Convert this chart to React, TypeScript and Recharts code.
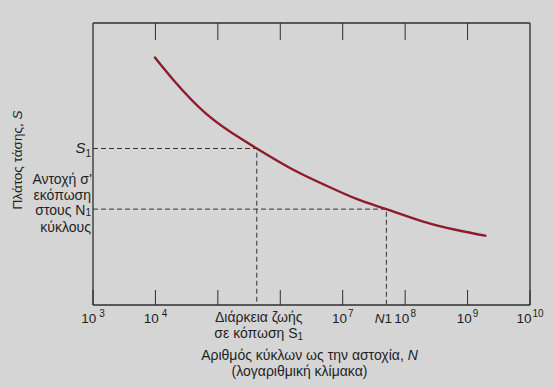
import React from 'react';
import { LineChart, Line, XAxis, YAxis, Label } from 'recharts';

// ---- data ----
const cycles = [9.6e3, 1.94e4, 6.6e4, 2.26e5, 4.2e5, 1.43e6, 4.9e6, 1.67e7, 5e7, 1.95e8, 6.7e8, 2.0e9];
const stressAmplitude = [88, 79.8, 67.7, 59.2, 55.5, 48.6, 42.8, 37.6, 34, 29.6, 26.6, 24.5];
const decadeExponents = [3, 4, 5, 6, 7, 8, 9, 10];
const labeledExponents = [3, 4, 7, 8, 9, 10];
const topTickExponents = [4, 5, 6, 7, 8, 9];
const fatigueLifeN = 4.2e5;
const S1 = 55.5;
const N1 = 5e7;
const enduranceAtN1 = 34;
const nDomain = [1e3, 1e10];
const sDomain = [0, 100];

const curveData = cycles.map((N, i) => ({ N, S: stressAmplitude[i] }));
const s1Guide = [
  { N: nDomain[0], S: S1 },
  { N: fatigueLifeN, S: S1 },
  { N: fatigueLifeN, S: sDomain[0] },
];
const n1Guide = [
  { N: nDomain[0], S: enduranceAtN1 },
  { N: N1, S: enduranceAtN1 },
  { N: N1, S: sDomain[0] },
];
const decadeTicks = decadeExponents.map((e) => Math.pow(10, e));
const topTicks = topTickExponents.map((e) => Math.pow(10, e));
const bottomTicks = [...decadeTicks, fatigueLifeN, N1];
const leftTicks = [S1, enduranceAtN1];

const FONT = '"Liberation Sans", Arial, Helvetica, sans-serif';
const TEXT = '#1f1f1f';
const AXIS = '#2e2e2e';

const isDecade = (v: number) => {
  const e = Math.round(Math.log10(v));
  return Math.abs(Math.pow(10, e) - v) < 1e-6 * v;
};

const BottomTick = (props: any) => {
  const { x, y, payload } = props;
  const v = payload.value;
  if (v === fatigueLifeN) {
    return (
      <g fontFamily={FONT} fill={TEXT} fontSize={14}>
        <text x={x + 2} y={y + 17} textAnchor="middle">Διάρκεια ζωής</text>
        <text x={x + 2} y={y + 33} textAnchor="middle">
          σε κόπωση S<tspan fontSize={10} dy={2}>1</tspan>
        </text>
      </g>
    );
  }
  if (v === N1) {
    return (
      <g fontFamily={FONT} fill={TEXT} fontSize={13.5}>
        <text x={x - 3} y={y + 18} textAnchor="middle">
          <tspan fontStyle="italic">N</tspan>1
        </text>
      </g>
    );
  }
  if (isDecade(v)) {
    const e = Math.round(Math.log10(v));
    return (
      <g>
        <line x1={x} y1={y} x2={x} y2={y - 15} stroke={AXIS} strokeWidth={1} />
        {labeledExponents.includes(e) ? (
          <text x={x} y={y + 18} textAnchor="middle" fontFamily={FONT} fill={TEXT} fontSize={13.5}>
            10<tspan fontSize={10} dx={e <= 4 ? 3 : 1} dy={-6}>{e}</tspan>
          </text>
        ) : null}
      </g>
    );
  }
  return null;
};

const TopTick = (props: any) => {
  const { x, y } = props;
  return <line x1={x} y1={y} x2={x} y2={y + 17} stroke={AXIS} strokeWidth={1} />;
};

const LeftTick = (props: any) => {
  const { x, y, payload } = props;
  const v = payload.value;
  if (v === S1) {
    return (
      <text x={x - 2} y={y + 5} textAnchor="end" fontFamily={FONT} fill={TEXT} fontSize={15}>
        <tspan fontStyle="italic">S</tspan>
        <tspan fontSize={10} dy={4}>1</tspan>
      </text>
    );
  }
  const lines = ['Αντοχή σ\u2019', 'εκόπωση', null, 'κύκλους'];
  return (
    <g fontFamily={FONT} fill={TEXT} fontSize={14} textAnchor="end">
      <text x={x - 1} y={y - 25}>{lines[0]}</text>
      <text x={x - 2} y={y - 9}>{lines[1]}</text>
      <text x={x - 2} y={y + 6}>
        στους N<tspan fontSize={10} dy={1}>1</tspan>
      </text>
      <text x={x - 2} y={y + 23}>{lines[3]}</text>
    </g>
  );
};

const XTitle = (props: any) => {
  const { viewBox } = props;
  const cx = viewBox.x + viewBox.width / 2;
  const y = viewBox.y;
  return (
    <g fontFamily={FONT} fill={TEXT} fontSize={14} textAnchor="middle">
      <text x={cx - 2} y={y + 55}>
        Αριθμός κύκλων ως την αστοχία, <tspan fontStyle="italic">N</tspan>
      </text>
      <text x={cx - 12} y={y + 71}>(λογαριθμική κλίμακα)</text>
    </g>
  );
};

const YTitle = (props: any) => {
  const { viewBox } = props;
  const x = viewBox.x + viewBox.width - 75;
  const y = viewBox.y + viewBox.height / 2 - 4;
  return (
    <text
      x={x}
      y={y}
      transform={`rotate(-90 ${x} ${y})`}
      textAnchor="middle"
      dominantBaseline="middle"
      fontFamily={FONT}
      fill={TEXT}
      fontSize={13.5}
    >
      Πλάτος τάσης, <tspan fontStyle="italic">S</tspan>
    </text>
  );
};

export default function App() {
  return (
    <div style={{ position: 'absolute', left: 0, top: 0, width: 553, height: 388, background: '#d5d5d5' }}>
      <LineChart width={553} height={388} margin={{ top: 13, right: 13, bottom: 53, left: 33 }}>
        <XAxis
          dataKey="N"
          type="number"
          scale="log"
          domain={nDomain}
          allowDataOverflow
          ticks={bottomTicks}
          interval={0}
          tick={<BottomTick />}
          tickSize={0}
          tickMargin={0}
          tickLine={false}
          height={30}
          axisLine={{ stroke: AXIS, strokeWidth: 1.3 }}
        >
          <Label content={<XTitle />} />
        </XAxis>
        <XAxis
          xAxisId="top"
          orientation="top"
          dataKey="N"
          type="number"
          scale="log"
          domain={nDomain}
          allowDataOverflow
          ticks={topTicks}
          interval={0}
          tick={<TopTick />}
          tickSize={0}
          tickMargin={0}
          tickLine={false}
          height={10}
          axisLine={{ stroke: AXIS, strokeWidth: 1.3 }}
        />
        <YAxis
          type="number"
          domain={sDomain}
          ticks={leftTicks}
          interval={0}
          tick={<LeftTick />}
          tickSize={0}
          tickMargin={0}
          tickLine={false}
          width={60}
          axisLine={{ stroke: AXIS, strokeWidth: 1.3 }}
        >
          <Label content={<YTitle />} />
        </YAxis>
        <YAxis
          yAxisId="right"
          orientation="right"
          type="number"
          domain={sDomain}
          tick={false}
          tickLine={false}
          width={10}
          axisLine={{ stroke: AXIS, strokeWidth: 1.3 }}
        />
        <Line
          data={s1Guide}
          dataKey="S"
          type="linear"
          stroke="#333333"
          strokeWidth={1}
          strokeDasharray="5 3"
          dot={false}
          activeDot={false}
          isAnimationActive={false}
        />
        <Line
          data={n1Guide}
          dataKey="S"
          type="linear"
          stroke="#333333"
          strokeWidth={1}
          strokeDasharray="5 3"
          dot={false}
          activeDot={false}
          isAnimationActive={false}
        />
        <Line
          data={curveData}
          dataKey="S"
          type="natural"
          stroke="#8e1b2b"
          strokeWidth={2.4}
          dot={false}
          activeDot={false}
          isAnimationActive={false}
        />
      </LineChart>
    </div>
  );
}
